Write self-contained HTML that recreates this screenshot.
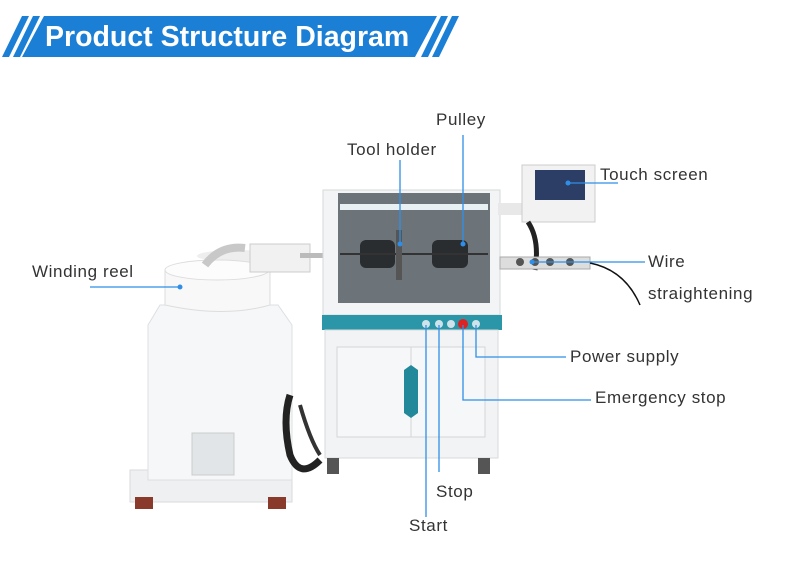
<!DOCTYPE html>
<html><head><meta charset="utf-8"><style>
body{margin:0;background:#fff}
svg{display:block}
text{font-family:"Liberation Sans",sans-serif;fill:#333;font-size:17px;letter-spacing:0.6px}
</style></head><body>
<svg width="790" height="570" viewBox="0 0 790 570" xmlns="http://www.w3.org/2000/svg">
<!-- header -->
<g fill="#1b7fd6">
<polygon points="22,16 29,16 9,57 2,57"/>
<polygon points="33,16 40,16 20,57 13,57"/>
<polygon points="44,16 437,16 415,57 22,57"/>
<polygon points="441,16 448,16 428,57 421,57"/>
<polygon points="452,16 459,16 439,57 432,57"/>
</g>
<text x="45" y="46" style="font-size:28.5px;font-weight:bold;fill:#fff;letter-spacing:0">Product Structure Diagram</text>

<!-- left winding reel machine -->
<rect x="130" y="470" width="162" height="32" fill="#eef0f1" stroke="#d8dadc"/>
<polygon points="160,305 278,305 292,325 292,480 148,480 148,325" fill="#f6f7f8" stroke="#dcdfe2"/>
<rect x="192" y="433" width="42" height="42" fill="#e2e5e8" stroke="#ccc"/>
<rect x="135" y="497" width="18" height="12" fill="#8a3a2a"/><rect x="268" y="497" width="18" height="12" fill="#8a3a2a"/>
<ellipse cx="237" cy="256" rx="40" ry="6" fill="#eee"/>
<path d="M165,270 L165,305 Q225,318 270,305 L270,270 Z" fill="#f8f8f8" stroke="#ddd"/>
<ellipse cx="217" cy="270" rx="52" ry="10" fill="#fcfcfc" stroke="#ddd"/>
<path d="M205,265 Q220,245 245,248" stroke="#c8c8c8" stroke-width="8" fill="none"/>
<rect x="250" y="244" width="60" height="28" fill="#f1f1f1" stroke="#ccc"/>
<rect x="300" y="253" width="26" height="5" fill="#bbb"/>
<path d="M290,395 Q282,420 290,455 Q300,480 320,460" stroke="#222" stroke-width="7" fill="none"/>
<path d="M300,405 Q310,440 320,455" stroke="#333" stroke-width="4" fill="none"/>

<!-- main cabinet -->
<rect x="323" y="190" width="177" height="125" fill="#f3f4f5" stroke="#d6d8da"/>
<rect x="338" y="193" width="152" height="110" fill="#6d7479"/>
<rect x="340" y="204" width="148" height="6" fill="#e8f0f4"/>
<rect x="360" y="240" width="35" height="28" rx="6" fill="#2a2d30"/>
<rect x="432" y="240" width="36" height="28" rx="6" fill="#2a2d30"/>
<line x1="340" y1="254" x2="488" y2="254" stroke="#333" stroke-width="2"/>
<rect x="396" y="230" width="6" height="50" fill="#555"/>
<rect x="322" y="315" width="180" height="15" fill="#2a96a8"/>
<g fill="#cfe3ea"><circle cx="426" cy="324" r="4"/><circle cx="439" cy="324" r="4"/><circle cx="451" cy="324" r="4"/><circle cx="476" cy="324" r="4"/></g>
<circle cx="463" cy="324" r="5" fill="#d22"/>
<rect x="325" y="330" width="173" height="128" fill="#f2f3f4" stroke="#d8dadc"/>
<rect x="337" y="347" width="148" height="90" fill="#f6f7f8" stroke="#d3d5d7"/>
<line x1="411" y1="347" x2="411" y2="437" stroke="#d3d5d7"/>
<polygon points="404,370 411,365 418,370 418,413 411,418 404,413" fill="#22899b"/>
<rect x="327" y="458" width="12" height="16" fill="#555"/><rect x="478" y="458" width="12" height="16" fill="#555"/>

<!-- touch screen / straightener -->
<rect x="498" y="203" width="28" height="12" fill="#e8e8e8"/>
<rect x="522" y="165" width="73" height="57" fill="#f2f2f2" stroke="#ccc"/>
<rect x="535" y="170" width="50" height="30" fill="#2c3e66"/>
<path d="M528,222 Q540,240 535,270" stroke="#222" stroke-width="5" fill="none"/>
<rect x="500" y="257" width="90" height="12" fill="#ddd" stroke="#aaa"/>
<g fill="#555"><circle cx="520" cy="262" r="4"/><circle cx="535" cy="262" r="4"/><circle cx="550" cy="262" r="4"/><circle cx="570" cy="262" r="4"/></g>
<path d="M590,263 Q625,270 640,305" stroke="#111" stroke-width="1.5" fill="none"/>

<!-- connectors -->
<g stroke="#2f8fe8" stroke-width="1.3" fill="none">
<line x1="463" y1="135" x2="463" y2="244"/>
<line x1="400" y1="160" x2="400" y2="244"/>
<line x1="568" y1="183" x2="618" y2="183"/>
<line x1="532" y1="262" x2="645" y2="262"/>
<line x1="90" y1="287" x2="180" y2="287"/>
<polyline points="476,325 476,357 566,357"/>
<polyline points="463,325 463,400 591,400"/>
<line x1="439" y1="325" x2="439" y2="472"/>
<line x1="426" y1="325" x2="426" y2="517"/>
</g>
<g fill="#2f8fe8"><circle cx="463" cy="244" r="2.5"/><circle cx="400" cy="244" r="2.5"/><circle cx="568" cy="183" r="2.5"/><circle cx="532" cy="262" r="2.5"/><circle cx="180" cy="287" r="2.5"/></g>

<!-- labels -->
<text x="436" y="125">Pulley</text>
<text x="347" y="155">Tool holder</text>
<text x="600" y="180">Touch screen</text>
<text x="648" y="267">Wire</text>
<text x="648" y="299">straightening</text>
<text x="32" y="277">Winding reel</text>
<text x="570" y="362">Power supply</text>
<text x="595" y="403">Emergency stop</text>
<text x="436" y="497">Stop</text>
<text x="409" y="531">Start</text>
</svg>
</body></html>
